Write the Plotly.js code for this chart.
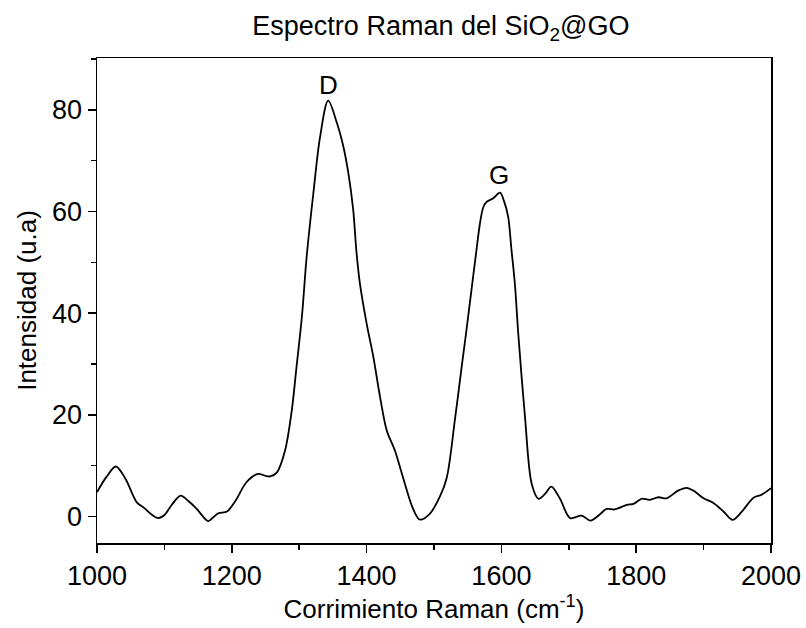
<!DOCTYPE html>
<html>
<head>
<meta charset="utf-8">
<script src="https://cdn.plot.ly/plotly-3.0.1.min.js"></script>
<style>html,body{margin:0;padding:0;background:#fff;}#chart{width:806px;height:628px;}</style>
</head>
<body>
<div id="chart"></div>
<script>
const ramanShift = [1000,1014,1028,1042,1059,1069,1080,1091,1100,1112,1124,1136,1148,1165,1172,1180,1193,1205,1222,1239,1250,1257,1267,1279,1289,1296,1304,1311,1321,1331,1343,1356,1366,1373,1380,1385,1390,1400,1410,1420,1430,1442,1454,1469,1479,1494,1509,1519,1531,1541,1548,1556,1563,1568,1573,1578,1588,1598,1604,1610,1615,1620,1625,1635,1645,1655,1665,1674,1687,1702,1719,1732,1745,1756,1768,1786,1796,1808,1820,1833,1845,1862,1875,1885,1900,1914,1929,1943,1956,1974,1986,2000];
const intensity = [4.8,7.8,9.85,7.5,2.8,1.8,0.5,-0.3,0.3,2.5,4.1,3.0,1.5,-0.9,-0.2,0.65,1.0,3.0,6.8,8.4,8.0,7.9,8.7,13,20.9,29.4,39.3,51,63.6,74.7,81.8,77.4,72.5,67.5,60.5,52,45.9,38,31.4,23.5,16.9,13,7.7,1.5,-0.6,0.6,4.0,7.7,19,29.4,36.5,45,52.4,57.5,60.8,61.9,62.6,63.7,62,59,52.4,45.8,36,19.6,6.4,3.5,4.5,5.9,3.5,-0.3,0.2,-0.8,0.3,1.5,1.4,2.3,2.5,3.5,3.3,3.8,3.6,5.1,5.65,5.1,3.6,2.7,1.05,-0.65,0.85,3.7,4.3,5.6];
const peakLabels = ["D","G"];
const peakX = [1343,1597];
const peakY = [84.8,67.2];

const fontFam = "Arial, 'Liberation Sans', sans-serif";
const trace = {
  x: ramanShift, y: intensity, type: 'scatter', mode: 'lines',
  line: {color: '#000', width: 1.8, shape: 'spline', smoothing: 0.9},
  hoverinfo: 'skip'
};
const annotations = peakLabels.map((t, i) => ({
  x: peakX[i], y: peakY[i], xref: 'x', yref: 'y', text: t, showarrow: false,
  font: {family: fontFam, size: 26, color: '#000'}, yanchor: 'middle'
}));
const layout = {
  width: 806, height: 628,
  margin: {l: 97, r: 35, t: 58, b: 85},
  paper_bgcolor: '#fff', plot_bgcolor: '#fff',
  showlegend: false,
  font: {family: fontFam, color: '#000'},
  title: {text: 'Espectro Raman del SiO<sub>2</sub>@GO', font: {family: fontFam, size: 27, color: '#000'},
          x: 0.547, xanchor: 'center', y: 1 - 26/628, yanchor: 'middle', yref: 'container'},
  xaxis: {
    range: [1000, 2000], showgrid: false, zeroline: false,
    showline: true, linecolor: '#000', linewidth: 1.5, mirror: true,
    ticks: 'outside', ticklen: 8, tickwidth: 1.5, tickcolor: '#000', dtick: 200, tick0: 1000,
    minor: {dtick: 100, ticks: 'outside', ticklen: 5, tickwidth: 1.5, tickcolor: '#000', showgrid: false},
    tickfont: {family: fontFam, size: 27, color: '#000'},
    title: {text: 'Corrimiento Raman (cm<sup>-1</sup>)', font: {family: fontFam, size: 26, color: '#000'}, standoff: 8}
  },
  yaxis: {
    range: [-5.2, 90.2], showgrid: false, zeroline: false,
    showline: true, linecolor: '#000', linewidth: 1.5, mirror: true,
    ticks: 'outside', ticklen: 8, tickwidth: 1.5, tickcolor: '#000', dtick: 20, tick0: 0,
    minor: {dtick: 10, ticks: 'outside', ticklen: 5, tickwidth: 1.5, tickcolor: '#000', showgrid: false},
    tickfont: {family: fontFam, size: 27, color: '#000'},
    title: {text: 'Intensidad (u.a)', font: {family: fontFam, size: 26, color: '#000'}, standoff: 8}
  },
  annotations: annotations
};
Plotly.newPlot('chart', [trace], layout, {staticPlot: true, displayModeBar: false});
</script>
</body>
</html>
